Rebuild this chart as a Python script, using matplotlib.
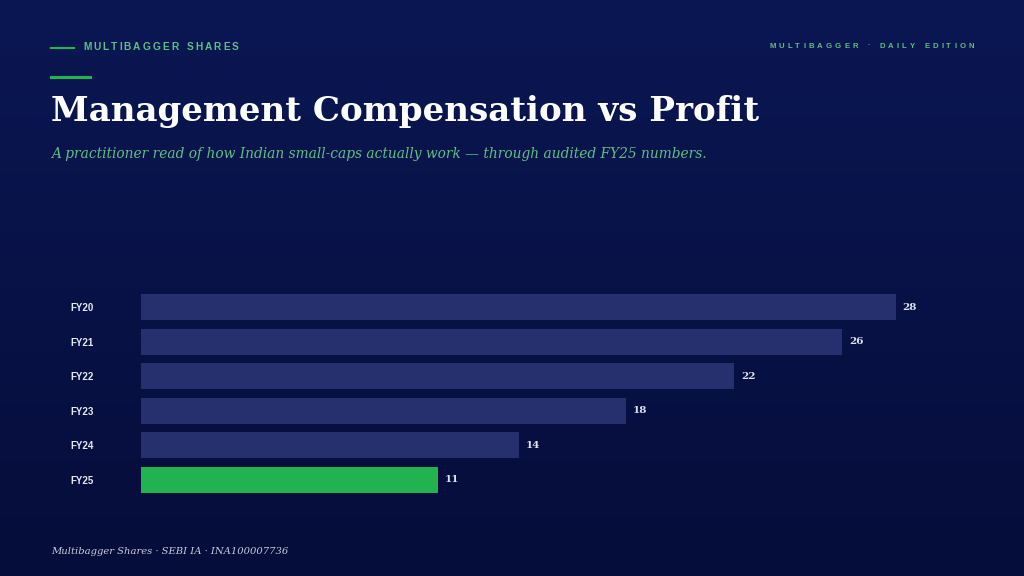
import numpy as np
import matplotlib
matplotlib.use("Agg")
import matplotlib.pyplot as plt
from matplotlib.colors import LinearSegmentedColormap

# data
years = ["FY20", "FY21", "FY22", "FY23", "FY24", "FY25"]
values = [28, 26, 22, 18, 14, 11]
highlight = "FY25"

BAR = "#27306e"
GREEN = "#22b24f"
ACCENT = "#5fbf84"
W, H = 1024, 576


def spaced_text(fig, x, y, s, gap, ha="left", **kw):
    """draw text with extra letter spacing (gap in px), x,y in pixels from top-left"""
    r = fig.canvas.get_renderer()
    widths = []
    for ch in s:
        if ch == " ":
            widths.append(kw.get("size", 8) * 0.55)
            continue
        t = fig.text(0, 0, ch, **kw)
        widths.append(t.get_window_extent(r).width)
        t.remove()
    total = sum(widths) + gap * (len(s) - 1)
    cx = x - total if ha == "right" else x
    for ch, w in zip(s, widths):
        if ch != " ":
            fig.text(cx / W, 1 - y / H, ch, va="center", ha="left", **kw)
        cx += w + gap


fig = plt.figure(figsize=(10.24, 5.76), dpi=100)

# background gradient
bg = fig.add_axes([0, 0, 1, 1], zorder=-5)
cmap = LinearSegmentedColormap.from_list("bg", ["#0b1753", "#050d3a"])
bg.imshow(np.linspace(0, 1, 256).reshape(-1, 1), aspect="auto", cmap=cmap,
          extent=[0, 1, 0, 1])
bg.axis("off")

# header
fig.add_artist(plt.Line2D([51 / W, 74 / W], [1 - 47.5 / H] * 2, color=GREEN, lw=1.5))
spaced_text(fig, 83, 47, "MULTIBAGGER SHARES", 2.0, size=7.3, color=ACCENT,
            weight="bold", family="Liberation Sans")
spaced_text(fig, 974, 46, "MULTIBAGGER · DAILY EDITION", 3.1, ha="right", size=5.6,
            color=ACCENT, weight="bold", family="Liberation Sans")
fig.add_artist(plt.Line2D([51 / W, 90 / W], [1 - 76.5 / H] * 2, color=GREEN, lw=2.2))

fig.text(51 / W, 1 - 111 / H, "Management Compensation vs Profit", color="white",
         size=24.6, weight="bold", family="DejaVu Serif", va="center")
fig.text(51 / W, 1 - 154 / H,
         "A practitioner read of how Indian small-caps actually work \u2014 through audited FY25 numbers.",
         color=ACCENT, size=9.9, style="italic", family="DejaVu Serif", va="center")

# bars
ax = fig.add_axes([141 / W, 1 - 497.3 / H, 755 / W, 207.6 / H])
colors = [GREEN if y == highlight else BAR for y in years]
ypos = np.arange(len(years))
ax.barh(ypos, values, height=0.75, color=colors)
ax.set_xlim(0, max(values))
ax.set_ylim(len(years) - 0.5, -0.5)
for yp, v in zip(ypos, values):
    ax.text(v + 0.25, yp, str(v), va="center", ha="left", color="#dfe3f0", size=7.5,
            weight="bold", family="DejaVu Serif", clip_on=False)
ax.set_yticks(ypos)
ax.set_yticklabels(years, color="#e6e8f2", size=7, weight="bold", family="Liberation Sans")
ax.tick_params(axis="y", length=0, pad=50.5)
for lab in ax.get_yticklabels():
    lab.set_horizontalalignment("left")
ax.set_xticks([])
for sp in ax.spines.values():
    sp.set_visible(False)
ax.patch.set_alpha(0)

fig.text(51 / W, 1 - 551 / H, "Multibagger Shares · SEBI IA · INA100007736", color="#c9cde0",
         size=7.2, style="italic", family="DejaVu Serif", va="center")

fig.savefig("out.png", dpi=100)
